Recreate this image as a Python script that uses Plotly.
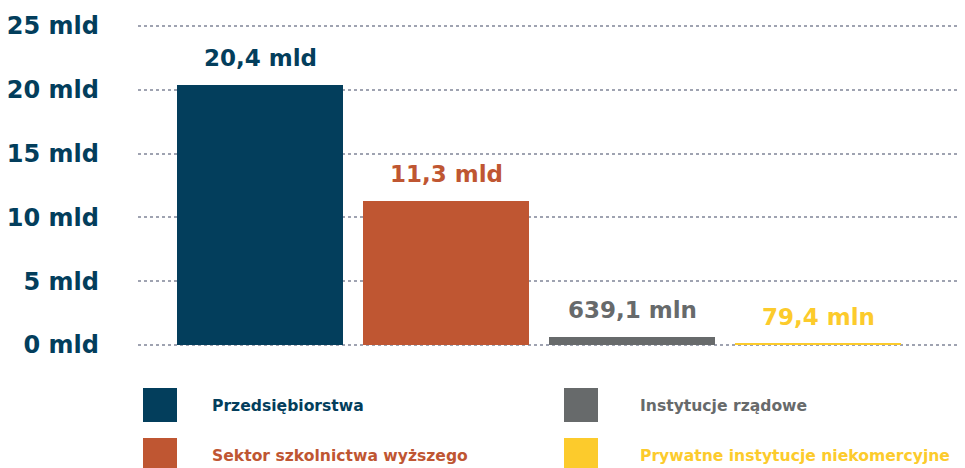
import plotly.graph_objects as go

# ---- data ----
categories = ["Przedsiębiorstwa", "Sektor szkolnictwa wyższego",
              "Instytucje rządowe", "Prywatne instytucje niekomercyjne"]
values_mld = [20.4, 11.3, 0.6391, 0.0794]
value_labels = ["20,4 mld", "11,3 mld", "639,1 mln", "79,4 mln"]
tick_values = [0, 5, 10, 15, 20, 25]
tick_labels = ["0 mld", "5 mld", "10 mld", "15 mld", "20 mld", "25 mld"]
colors = ["#033e5c", "#bf5632", "#676a6b", "#fccb2c"]

OFF = 8  # page body margin
W, H = 965 - OFF, 468 - OFF
ML, MR, MT, MB = 138 - OFF, 0, 20 - OFF, 117
PW, PH = W - ML - MR, H - MT - MB

def px(x):
    return (x - OFF - ML) / PW

def py(y):
    return (H - MB - (y - OFF)) / PH

FONT = "DejaVu Sans"

fig = go.Figure()
fig.add_trace(go.Bar(
    x=categories, y=values_mld, width=0.892,
    marker=dict(color=colors, line=dict(width=0)),
    hoverinfo="skip", showlegend=False,
))

annotations = []
for c, v, t, col in zip(categories, values_mld, value_labels, colors):
    annotations.append(dict(
        x=c, y=v, xref="x", yref="y", text=t, showarrow=False,
        yanchor="middle", yshift=27,
        font=dict(family=FONT, size=23, color=col, weight="bold"),
    ))

shapes = []
legend_pos = [(143, 388), (143, 438), (564, 388), (564, 438)]
for i, (lx, ly) in enumerate(legend_pos):
    shapes.append(dict(
        type="rect", xref="paper", yref="paper",
        x0=px(lx), x1=px(lx + 34), y0=py(ly), y1=py(ly + 34),
        fillcolor=colors[i], line=dict(width=0), layer="above",
    ))
    tx = 210 if lx < 300 else 638
    annotations.append(dict(
        x=px(tx), y=py(ly + 18), xref="paper", yref="paper",
        text=categories[i], showarrow=False, xanchor="left", yanchor="middle",
        font=dict(family=FONT, size=15.6, color=colors[i], weight="bold"),
    ))

fig.update_layout(
    width=W, height=H,
    margin=dict(l=ML, r=MR, t=MT, b=MB),
    paper_bgcolor="white", plot_bgcolor="white",
    annotations=annotations, shapes=shapes,
    xaxis=dict(range=[-0.656, 3.79], showticklabels=False, showgrid=False,
               zeroline=False, showline=False, fixedrange=True),
    yaxis=dict(range=[-0.47, 25.47], tickvals=tick_values, ticktext=tick_labels,
               showgrid=True, gridcolor="#9fa3b1", gridwidth=1.6,
               griddash="dot", zeroline=False, showline=False,
               ticklabelstandoff=38,
               tickfont=dict(family=FONT, size=24, color="#033e5c", weight="bold")),
    bargap=0,
)

fig.write_html("out.html")
